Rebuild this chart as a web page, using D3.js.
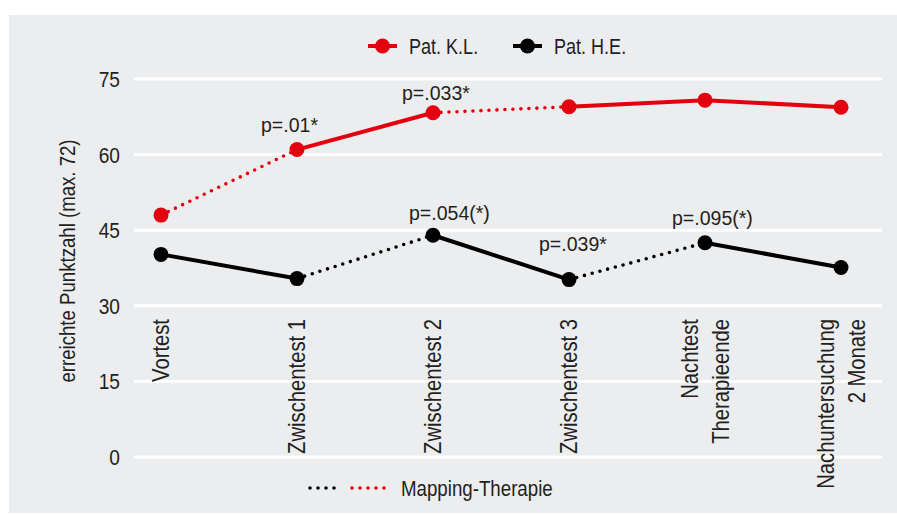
<!DOCTYPE html>
<html>
<head>
<meta charset="utf-8">
<script src="https://cdn.jsdelivr.net/npm/d3@7"></script>
<style>
  body { margin: 0; background: #fff; }
  svg text { font-family: "Liberation Sans Narrow", "Liberation Sans", Arial, sans-serif; fill: #231f20; }
</style>
</head>
<body>
<svg width="897" height="514"></svg>
<script>
// categories (x axis), multi-line labels split by "|"
var categories = ["Vortest", "Zwischentest 1", "Zwischentest 2", "Zwischentest 3", "Nachtest|Therapieende", "Nachuntersuchung|2 Monate"];
var yTicks = [0, 15, 30, 45, 60, 75];

// points reached per test
var patKL = [48, 61, 68.3, 69.5, 70.8, 69.4];
var patHE = [40.2, 35.4, 44, 35.2, 42.5, 37.6];

// segment i -> i+1 drawn dotted (Mapping-Therapie phase)
var mappingKL = [true, false, true, false, false];
var mappingHE = [false, true, false, true, false];

// p-value notes: series, category index, text
var noteSeries = ["KL", "KL", "HE", "HE", "HE"];
var noteIndex = [1, 2, 2, 3, 4];
var noteText = ["p=.01*", "p=.033*", "p=.054(*)", "p=.039*", "p=.095(*)"];

var svg = d3.select("svg");

// no condensed font installed, so squeeze the regular one horizontally
function label(parent, px, py, str, size, k, anchor, rot) {
  var t = "translate(" + px + "," + py + ")" + (rot ? " rotate(" + rot + ")" : "") + " scale(" + k + ",1)";
  return parent.append("text")
    .attr("transform", t)
    .attr("text-anchor", anchor || "start")
    .attr("font-size", size)
    .text(str);
}

svg.append("rect")
    .attr("x", 9).attr("y", 15)
    .attr("width", 888).attr("height", 498)
    .attr("fill", "#ecedef");

var x = d3.scalePoint()
    .domain(categories)
    .range([161, 841]);

var y = d3.scaleLinear()
    .domain([0, 75])
    .range([457, 79]);

// grid
svg.append("g")
  .selectAll("line")
  .data(yTicks)
  .enter().append("line")
    .attr("x1", 134).attr("x2", 882)
    .attr("y1", d => y(d)).attr("y2", d => y(d))
    .attr("stroke", "#fff")
    .attr("stroke-width", 3);

// y tick labels
var yg = svg.append("g");
yTicks.forEach(function(d) {
  label(yg, 120, y(d) + 8, d, 22, 0.87, "end");
});

label(svg, 75, 261, "erreichte Punktzahl (max. 72)", 23, 0.81, "middle", -90);

// category labels, rotated, lines centred on the point
var cg = svg.append("g");
categories.forEach(function(d) {
  var lines = d.split("|");
  lines.forEach(function(l, i) {
    var off = (i - (lines.length - 1) / 2) * 31;
    label(cg, x(d) + off + 8, 319, l, 23, 0.88, "end", -90);
  });
});

function drawSeries(vals, dotted, color, r) {
  var g = svg.append("g");
  var segs = d3.range(vals.length - 1).map(i => ({ i: i, dot: dotted[i] }));
  g.selectAll("line")
    .data(segs)
    .enter().append("line")
      .attr("x1", d => x(categories[d.i]))
      .attr("y1", d => y(vals[d.i]))
      .attr("x2", d => x(categories[d.i + 1]))
      .attr("y2", d => y(vals[d.i + 1]))
      .attr("stroke", color)
      .attr("stroke-width", d => d.dot ? 3.6 : 4)
      .attr("stroke-linecap", "round")
      .attr("stroke-dasharray", d => d.dot ? "0,8" : null);
  g.selectAll("circle")
    .data(vals)
    .enter().append("circle")
      .attr("cx", (d, i) => x(categories[i]))
      .attr("cy", d => y(d))
      .attr("r", r)
      .attr("fill", color);
}

var red = "#e3000f", black = "#000";
drawSeries(patKL, mappingKL, red, 7.5);
drawSeries(patHE, mappingHE, black, 7.5);

// nudges for the notes (layout only)
var noteDx = [-36, -31, -24, -30, -33];
var noteDy = [-18, -13, -15, -29, -18];
var ng = svg.append("g");
noteText.forEach(function(d, i) {
  var v = (noteSeries[i] == "KL" ? patKL : patHE)[noteIndex[i]];
  label(ng, x(categories[noteIndex[i]]) + noteDx[i], y(v) + noteDy[i], d, 21, 0.93, "start");
});

// legend top
var leg = [{ name: "Pat. K.L.", color: red, x0: 368 }, { name: "Pat. H.E.", color: black, x0: 513 }];
leg.forEach(function(d) {
  var g = svg.append("g").attr("transform", "translate(" + d.x0 + ",46)");
  g.append("line").attr("x1", 0).attr("x2", 29).attr("stroke", d.color).attr("stroke-width", 4);
  g.append("circle").attr("cx", 14.5).attr("r", 7.5).attr("fill", d.color);
  label(g, 41, 8, d.name, 22, 0.82, "start");
});

// legend bottom
var bl = svg.append("g").attr("transform", "translate(0,488)");
bl.append("line").attr("x1", 310).attr("x2", 342)
    .attr("stroke", black).attr("stroke-width", 3.6).attr("stroke-linecap", "round").attr("stroke-dasharray", "0,8");
bl.append("line").attr("x1", 352).attr("x2", 388)
    .attr("stroke", red).attr("stroke-width", 3.6).attr("stroke-linecap", "round").attr("stroke-dasharray", "0,8");
label(bl, 401, 8, "Mapping-Therapie", 22, 0.85, "start");
</script>
</body>
</html>
